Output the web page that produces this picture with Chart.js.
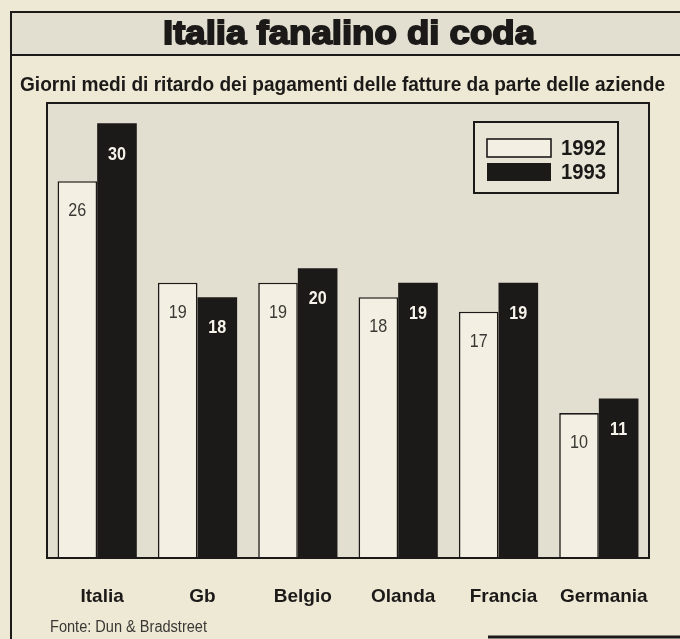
<!DOCTYPE html>
<html><head><meta charset="utf-8">
<script src="https://cdn.jsdelivr.net/npm/chart.js@4"></script>
<style>html,body{margin:0;padding:0;background:#eee9d6;}canvas{display:block}</style>
</head><body><canvas id="c" width="680" height="639"></canvas>
<script>
const titleText = "Italia fanalino di coda";
const subtitleText = "Giorni medi di ritardo dei pagamenti delle fatture da parte delle aziende";
const sourceText = "Fonte: Dun & Bradstreet";
const categories = ["Italia", "Gb", "Belgio", "Olanda", "Francia", "Germania"];
const seriesNames = ["1992", "1993"];
const values1992 = [26, 19, 19, 18, 17, 10];
const values1993 = [30, 18, 20, 19, 19, 11];

const PAGE = '#eee9d5', BAND = '#e2ded0', PLOT = '#e3dfd0', INK = '#1c1a19', LIGHT = '#f3efe2';
const NARROW = "'Liberation Sans Narrow','Arial Narrow','Liberation Sans',sans-serif";
const BOLD = "'Liberation Sans','Arial',sans-serif";

function fitText(ctx, text, x, y, w, font, align, stroke) {
  ctx.save();
  ctx.font = font;
  const m = ctx.measureText(text).width;
  const s = w / m;
  ctx.textBaseline = 'middle';
  ctx.textAlign = 'left';
  let x0 = align === 'center' ? x - w / 2 : x;
  ctx.translate(x0, y);
  ctx.scale(s, 1);
  ctx.fillText(text, 0, 0);
  if (stroke) { ctx.lineWidth = stroke; ctx.strokeText(text, 0, 0); }
  ctx.restore();
}

function squeezeText(ctx, text, x, y, sx, font) {
  ctx.save();
  ctx.font = font;
  ctx.textAlign = 'center';
  ctx.textBaseline = 'middle';
  ctx.translate(x, y);
  ctx.scale(sx, 1);
  ctx.fillText(text, 0, 0);
  ctx.restore();
}

const decor = {
  id: 'decor',
  beforeDraw(chart) {
    const ctx = chart.ctx, a = chart.chartArea;
    ctx.save();
    ctx.fillStyle = PAGE;
    ctx.fillRect(0, 0, chart.width, chart.height);
    ctx.fillStyle = BAND;
    ctx.fillRect(11, 12, 669, 43);
    ctx.fillStyle = PLOT;
    ctx.fillRect(a.left, a.top, a.right - a.left, a.bottom - a.top);
    ctx.strokeStyle = INK;
    ctx.lineWidth = 2;
    ctx.beginPath();
    ctx.moveTo(680, 12); ctx.lineTo(11, 12); ctx.lineTo(11, 639);
    ctx.moveTo(11, 55); ctx.lineTo(680, 55);
    ctx.stroke();
    ctx.lineWidth = 3;
    ctx.beginPath(); ctx.moveTo(488, 637); ctx.lineTo(680, 637); ctx.stroke();
    ctx.fillStyle = INK; ctx.strokeStyle = INK;
    fitText(ctx, titleText, 349, 35, 372, "bold 34px " + BOLD, 'center', 1.8);
    fitText(ctx, subtitleText, 20, 85, 645, "bold 20px " + NARROW, 'left');
    ctx.fillStyle = '#3a3835';
    fitText(ctx, sourceText, 50, 628, 157, "16px " + NARROW, 'left');
    ctx.restore();
  },
  afterDatasetsDraw(chart) {
    const ctx = chart.ctx, a = chart.chartArea;
    ctx.save();
    ctx.strokeStyle = INK;
    ctx.lineWidth = 2;
    ctx.strokeRect(a.left, a.top, a.right - a.left, a.bottom - a.top);
    chart.data.datasets.forEach((ds, di) => {
      const meta = chart.getDatasetMeta(di);
      meta.data.forEach((el, i) => {
        if (di === 0) {
          ctx.fillStyle = '#3a3835';
          squeezeText(ctx, String(ds.data[i]), el.x, el.y + 30, 0.85, "19px " + NARROW);
        } else {
          ctx.fillStyle = '#f6f3ea';
          squeezeText(ctx, String(ds.data[i]), el.x, el.y + 31, 0.85, "bold 19px " + BOLD);
        }
      });
    });
    // legend
    const bx = a.right - 175, by = a.top + 19;
    ctx.fillStyle = '#e9e5d6';
    ctx.fillRect(bx, by, 144, 71);
    ctx.lineWidth = 2;
    ctx.strokeStyle = INK;
    ctx.strokeRect(bx, by, 144, 71);
    chart.data.datasets.forEach((ds, di) => {
      const sy = by + 17 + di * 24;
      ctx.fillStyle = ds.backgroundColor;
      ctx.fillRect(bx + 13, sy, 64, 18);
      if (ds.borderWidth) { ctx.lineWidth = 1.6; ctx.strokeStyle = INK; ctx.strokeRect(bx + 13, sy, 64, 18); }
      ctx.fillStyle = INK;
      fitText(ctx, ds.label, bx + 87, sy + 9.5, 45, "bold 22px " + NARROW, 'left');
    });
    ctx.restore();
  }
};

new Chart(document.getElementById('c'), {
  type: 'bar',
  data: {
    labels: categories,
    datasets: [
      { label: seriesNames[0], data: values1992, backgroundColor: LIGHT, borderColor: INK, borderWidth: 1.6, borderSkipped: 'bottom', categoryPercentage: 0.79, barPercentage: 1.0 },
      { label: seriesNames[1], data: values1993, backgroundColor: INK, borderWidth: 0, categoryPercentage: 0.79, barPercentage: 1.0 }
    ]
  },
  options: {
    responsive: false,
    animation: false,
    devicePixelRatio: 1,
    layout: { padding: { left: 47, right: 31, top: 103, bottom: 0 } },
    plugins: { legend: { display: false }, title: { display: false }, tooltip: { enabled: false } },
    scales: {
      x: {
        grid: { display: false, drawTicks: false },
        border: { display: false },
        ticks: { font: { family: BOLD, size: 19, weight: 'bold' }, color: INK, padding: 27, labelOffset: 5, maxRotation: 0, autoSkip: false },
        afterFit(s) { s.height = 81; }
      },
      y: { display: false, min: 0, max: 31.4 }
    }
  },
  plugins: [decor]
});
</script>
</body></html>
